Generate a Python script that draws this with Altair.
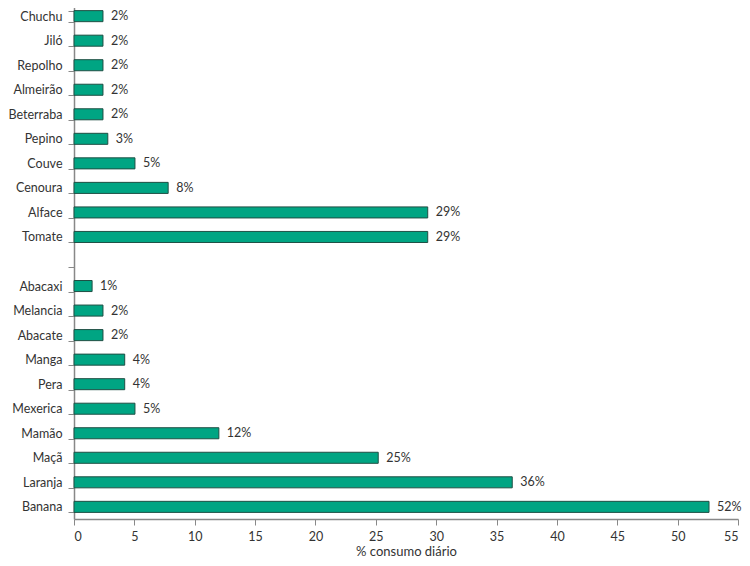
import altair as alt
import pandas as pd

categories = ["Chuchu", "Jiló", "Repolho", "Almeirão", "Beterraba", "Pepino", "Couve",
              "Cenoura", "Alface", "Tomate",
              "Abacaxi", "Melancia", "Abacate", "Manga", "Pera", "Mexerica", "Mamão",
              "Maçã", "Laranja", "Banana"]
values = [2.4, 2.4, 2.4, 2.4, 2.4, 2.8, 5.05, 7.8, 29.3, 29.3,
          1.5, 2.4, 2.4, 4.2, 4.2, 5.05, 12.0, 25.2, 36.3, 52.6]
labels = ["2%", "2%", "2%", "2%", "2%", "3%", "5%", "8%", "29%", "29%",
          "1%", "2%", "2%", "4%", "4%", "5%", "12%", "25%", "36%", "52%"]

domain = categories[:10] + [" "] + categories[10:]

df = pd.DataFrame({"cat": categories, "val": values, "lab": labels})

FONT = "Lato"

y = alt.Y("cat:N", scale=alt.Scale(domain=domain, paddingInner=0.55, paddingOuter=0.27),
          sort=domain,
          axis=alt.Axis(title=None, tickBand="extent", tickSize=6, labelPadding=6,
                        labelFontSize=12.5, labelColor="#333333", labelFont=FONT,
                        domainColor="#888888", tickColor="#888888", domainWidth=1.5))
x = alt.X("val:Q", scale=alt.Scale(domain=[0, 55], nice=False),
          axis=alt.Axis(title="% consumo diário", values=list(range(0, 56, 5)), grid=False,
                        tickSize=6, labelPadding=5, labelFontSize=12.5, labelColor="#333333",
                        labelFont=FONT, titleFont=FONT, titleFontSize=13, labelFlush=True,
                        titleFontWeight="normal", titleColor="#333333", titlePadding=3,
                        domainColor="#888888", tickColor="#888888", domainWidth=1.5))

bars = alt.Chart(df).mark_bar(color="#00a583", stroke="#1f4f44", strokeWidth=1).encode(x=x, y=y)
text = alt.Chart(df).mark_text(align="left", baseline="middle", dx=8, fontSize=12.5,
                               font=FONT, color="#333333").encode(
    x="val:Q", y=alt.Y("cat:N", sort=domain), text="lab:N")

chart = (bars + text).properties(
    width=664, height=515,
    autosize=alt.AutoSizeParams(type="none"),
    padding={"left": 66, "top": -4, "right": 4, "bottom": 39},
).configure_view(stroke=None)

chart.save("out.html", embed_options={"renderer": "svg", "actions": False})
